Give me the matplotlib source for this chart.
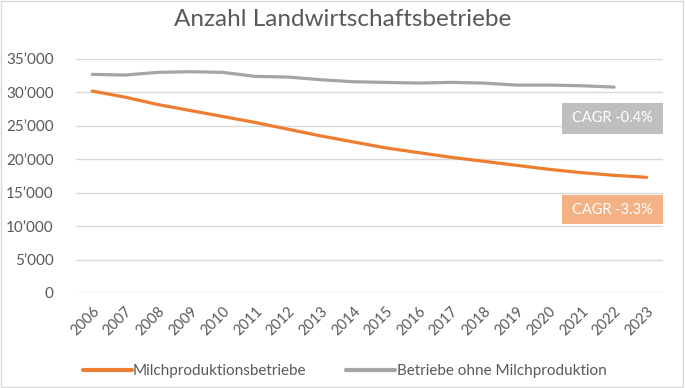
import matplotlib.pyplot as plt
from matplotlib.ticker import FuncFormatter, MultipleLocator
from matplotlib.patches import Rectangle

plt.rcParams['font.family'] = ['Lato', 'DejaVu Sans']

years = [str(y) for y in range(2006, 2024)]
milch = [30200, 29300, 28200, 27300, 26400, 25500, 24500, 23500, 22600,
         21700, 21000, 20300, 19700, 19100, 18500, 18000, 17600, 17300]
ohne_milch = [32700, 32600, 33000, 33100, 33000, 32400, 32300, 31900, 31600,
              31500, 31400, 31500, 31400, 31100, 31100, 31000, 30800]

orange = '#ED7D31'
gray = '#A5A5A5'
textc = '#595959'

fig = plt.figure(figsize=(6.85, 3.88), dpi=100)
fig.patches.append(Rectangle((0.002, 0.003), 0.995, 0.994, transform=fig.transFigure,
                             fill=False, edgecolor='#D9D9D9', linewidth=1))

ax = fig.add_axes([76 / 685, 1 - 293 / 388, 587 / 685, 234 / 388])
x = list(range(len(years)))
ax.plot(x, milch, color=orange, linewidth=2.3, solid_capstyle='round',
        label='Milchproduktionsbetriebe')
ax.plot(x[:len(ohne_milch)], ohne_milch, color=gray, linewidth=2.3,
        solid_capstyle='round', label='Betriebe ohne Milchproduktion')

ax.set_xlim(-0.5, len(years) - 0.5)
ax.set_ylim(0, 35000)
ax.yaxis.set_major_locator(MultipleLocator(5000))
ax.yaxis.set_major_formatter(FuncFormatter(lambda v, p: f'{int(v):,}'.replace(',', '\u2019')))
ax.set_xticks(x)
ax.set_xticklabels(years, rotation=45, ha='right', rotation_mode='anchor')
ax.tick_params(axis='both', length=0, labelcolor=textc)
ax.tick_params(axis='y', pad=16, labelsize=11)
ax.tick_params(axis='x', pad=8, labelsize=10.5)
ax.grid(axis='y', color='#D9D9D9', linewidth=1)
ax.set_axisbelow(True)
for s in ax.spines.values():
    s.set_visible(False)

fig.text(0.5, 1 - 20 / 388, 'Anzahl Landwirtschaftsbetriebe', ha='center', va='center',
         fontsize=17.5, color=textc)

# CAGR boxes
for (y0, y1, fc, txt) in [(103, 134, '#BFBFBF', 'CAGR -0.4%'), (195, 224, '#F4B183', 'CAGR -3.3%')]:
    fig.patches.append(Rectangle((562 / 685, 1 - y1 / 388), 101 / 685, (y1 - y0) / 388,
                                 transform=fig.transFigure, facecolor=fc, edgecolor='none'))
    fig.text((562 + 50.5) / 685, 1 - (y0 + y1) / 2 / 388, txt, ha='center', va='center',
             fontsize=10.5, color='white')

leg = fig.legend(loc='center', bbox_to_anchor=(0.503, 1 - 371 / 388), ncol=2, frameon=False,
                 fontsize=11, labelcolor=textc, handlelength=3.2, columnspacing=2.6,
                 handletextpad=0.1)
for h in leg.get_lines():
    h.set_linewidth(3)

fig.savefig('out.png', dpi=100)
